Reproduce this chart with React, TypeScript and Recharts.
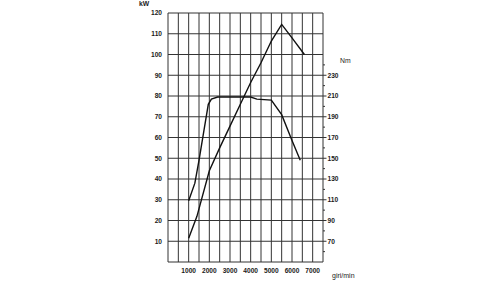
import { LineChart, Line, XAxis, YAxis, CartesianGrid } from "recharts";

// grid / tick positions
const rpmTicks = [0, 500, 1000, 1500, 2000, 2500, 3000, 3500, 4000, 4500, 5000, 5500, 6000, 6500, 7000, 7500];
const kwTicks = [0, 10, 20, 30, 40, 50, 60, 70, 80, 90, 100, 110, 120];
const nmTicks = [60, 70, 80, 90, 100, 110, 120, 130, 140, 150, 160, 170, 180, 190, 200, 210, 220, 230, 240];

// power curve (kW)
const powerRpm = [1000, 1400, 2000, 2500, 3000, 3500, 4000, 4500, 5000, 5500, 6000, 6600];
const powerKw = [11.5, 22, 44, 55, 65.5, 76, 86.5, 96, 106.5, 114.5, 108, 100];

// torque curve (Nm)
const torqueRpm = [1000, 1300, 1500, 1750, 1950, 2100, 2400, 4000, 4300, 5000, 5500, 6000, 6400];
const torqueNm = [109, 126, 148, 178, 202, 207, 209, 209, 207, 206, 192, 167, 148];

const powerData = powerRpm.map((rpm, i) => ({ rpm, kw: powerKw[i] }));
const torqueData = torqueRpm.map((rpm, i) => ({ rpm, nm: torqueNm[i] }));

const FONT = "'Liberation Sans', Arial, sans-serif";
const TXT = "#1a1a1a";

function RpmTick({ x, payload }: any) {
  const v = payload.value;
  if (v === 0 || v % 1000 !== 0) return <g />;
  return (
    <text x={x} y={273} textAnchor="middle" fontSize={6.6} fontWeight="bold" fontFamily={FONT} fill={TXT}>
      {v}
    </text>
  );
}

function KwTick({ y, payload }: any) {
  const v = payload.value;
  if (v === 0) return <g />;
  return (
    <text x={162} y={y + 2.4} textAnchor="end" fontSize={6.6} fontWeight="bold" fontFamily={FONT} fill={TXT}>
      {v}
    </text>
  );
}

function NmTick({ x, y, payload }: any) {
  const v = payload.value;
  const major = v >= 70 && v <= 230 && (v - 70) % 20 === 0;
  return (
    <g>
      <line x1={x} x2={x + (major ? 3.5 : 2)} y1={y} y2={y} stroke="#333" />
      {major && (
        <text x={x + 4.5} y={y + 2.4} textAnchor="start" fontSize={6.6} fontWeight="bold" fontFamily={FONT} fill={TXT}>
          {v}
        </text>
      )}
    </g>
  );
}

export default function App() {
  return (
    <div style={{ position: "absolute", left: 0, top: 0, width: 488, height: 283, background: "#fff" }}>
      <LineChart
        width={488}
        height={283}
        data={powerData}
        margin={{ top: 13, right: 125, bottom: 0, left: 0 }}
      >
        <CartesianGrid xAxisId="rpm" yAxisId="kw" stroke="#333" strokeWidth={1} />
        <XAxis
          xAxisId="rpm"
          type="number"
          dataKey="rpm"
          domain={[0, 7500]}
          ticks={rpmTicks}
          interval={0}
          height={21}
          axisLine={false}
          tickLine={false}
          tickSize={0}
          tick={<RpmTick />}
        />
        <YAxis
          yAxisId="kw"
          type="number"
          domain={[0, 120]}
          ticks={kwTicks}
          interval={0}
          width={168}
          axisLine={false}
          tickLine={false}
          tickSize={0}
          tick={<KwTick />}
        />
        <YAxis
          yAxisId="nm"
          orientation="right"
          type="number"
          domain={[50, 290]}
          ticks={nmTicks}
          interval={0}
          width={40}
          axisLine={false}
          tickLine={false}
          tickSize={0}
          tickMargin={0}
          tick={<NmTick />}
        />
        <Line
          xAxisId="rpm"
          yAxisId="kw"
          data={powerData}
          dataKey="kw"
          type="linear"
          stroke="#111"
          strokeWidth={1.4}
          dot={false}
          isAnimationActive={false}
        />
        <Line
          xAxisId="rpm"
          yAxisId="nm"
          data={torqueData}
          dataKey="nm"
          type="linear"
          stroke="#111"
          strokeWidth={1.4}
          dot={false}
          isAnimationActive={false}
        />
        <text x={139} y={6} fontSize={6.8} fontWeight="bold" fontFamily={FONT} fill={TXT}>
          kW
        </text>
        <text x={340} y={63} fontSize={6.8} fontFamily={FONT} fill={TXT}>
          Nm
        </text>
        <text x={332} y={277.5} fontSize={7} fontFamily={FONT} fill={TXT}>
          giri/min
        </text>
      </LineChart>
    </div>
  );
}
